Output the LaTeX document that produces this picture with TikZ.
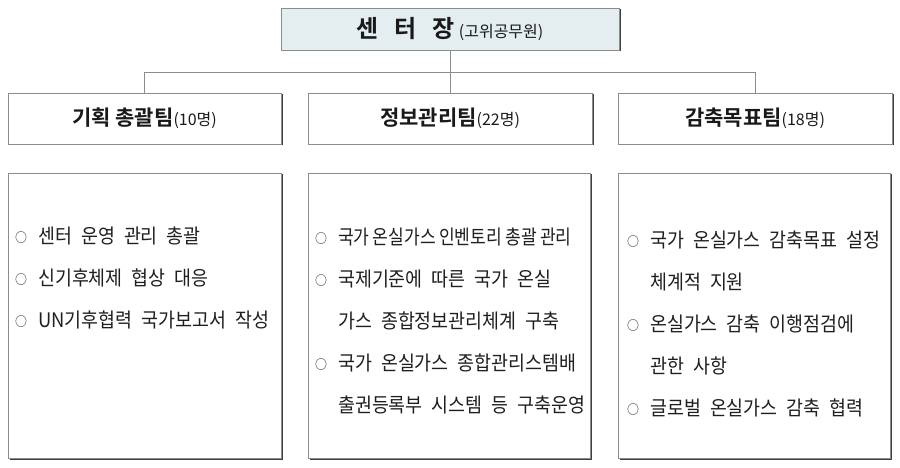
\documentclass[tikz,border=0pt]{standalone}
\usepackage{fontspec}
\usepackage{graphicx}
\setmainfont{Noto Sans CJK KR}[BoldFont={Noto Sans CJK KR Bold}]
\newfontfamily\krtext{Noto Sans CJK KR}[FakeStretch=0.92,WordSpace=2.2]
\usetikzlibrary{shadows}
\definecolor{kopf}{RGB}{228,237,239}
\newcommand{\pkt}{\makebox[23pt][l]{\raisebox{1pt}{\fontsize{13}{13}\selectfont ○}}}
\newcommand{\ein}{\hspace*{23pt}}
\newcommand{\eng}[1]{\scalebox{0.93}[1]{\spaceskip=3.5pt\relax #1}}

\begin{document}
\begin{tikzpicture}[x=1pt, y=-1pt,
    kasten/.style={draw=black!45, line width=0.6pt, fill=white, inner sep=0pt,
      drop shadow={shadow xshift=1.5pt, shadow yshift=-1.5pt, fill=black!75, opacity=1}},
    titel/.style={kasten, minimum height=51pt, font=\fontsize{21}{24}\selectfont, text=black!90},
    liste/.style={anchor=north west, inner sep=0pt, align=left, text=black!88,
      font=\krtext\fontsize{20}{42}\selectfont},
    linie/.style={draw=black!45, line width=0.6pt}]
    % Rahmen
    \useasboundingbox (0,0) rectangle (900,468);
    % Leitung
    \node[kasten, fill=kopf, minimum width=338pt, minimum height=42pt, text=black!90,
      font=\fontsize{24}{28}\selectfont] (leiter) at (450,29)
      {\textbf{센\hspace{16pt}터\hspace{16pt}장}\,{\fontsize{16}{16}\selectfont(고위공무원)}};
    % Teams
    \node[titel, minimum width=273pt] (planung) at (144.5,118.5)
      {\textbf{기획 총괄팀}{\fontsize{16}{16}\selectfont(10명)}};
    \node[titel, minimum width=284pt] (info) at (450,118.5)
      {\textbf{정보관리팀}{\fontsize{16}{16}\selectfont(22명)}};
    \node[titel, minimum width=274pt] (ziel) at (755,118.5)
      {\textbf{감축목표팀}{\fontsize{16}{16}\selectfont(18명)}};
    % Verbindungen
    \coordinate (bus) at (450,72);
    \draw[linie] (leiter) -- (info);
    \draw[linie] (planung.north) -- (planung.north |- bus) -- (ziel.north |- bus) -- (ziel.north);
    % Aufgabenkaesten
    \node[kasten, minimum width=273pt, minimum height=285pt] (planbox) at (144.5,315.5) {};
    \node[kasten, minimum width=282pt, minimum height=285pt] (infobox) at (449,315.5) {};
    \node[kasten, minimum width=272pt, minimum height=285pt] (zielbox) at (754,315.5) {};
    % Aufgaben
    \node[liste] (planliste) at (15,227)
      {\pkt 센터 운영 관리 총괄\\ \pkt 신기후체제 협상 대응\\ \pkt UN기후협력 국가보고서 작성};
    \node[liste] (infoliste) at (315,228)
      {\pkt \eng{국가 온실가스 인벤토리 총괄 관리}\\ \pkt 국제기준에 따른 국가 온실\\
       \ein 가스 종합정보관리체계 구축\\ \pkt 국가 온실가스 종합관리스템배\\
       \ein 출권등록부 시스템 등 구축운영};
    \node[liste] (zielliste) at (627,231)
      {\pkt 국가 온실가스 감축목표 설정\\ \ein 체계적 지원\\ \pkt 온실가스 감축 이행점검에\\
       \ein 관한 사항\\ \pkt 글로벌 온실가스 감축 협력};
\end{tikzpicture}
\end{document}
